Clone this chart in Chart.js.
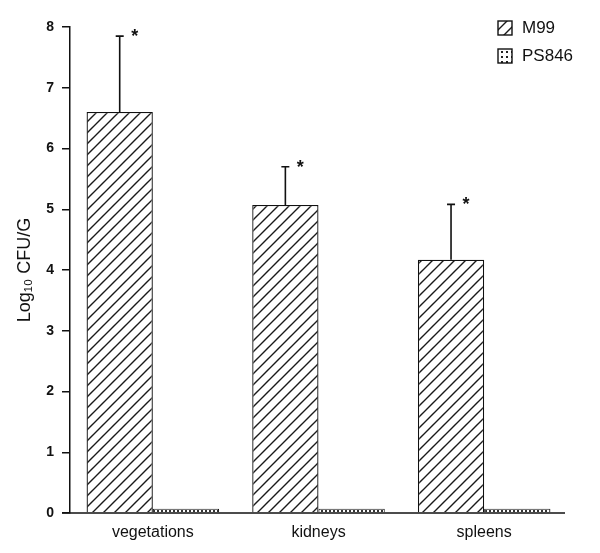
<!DOCTYPE html>
<html>
<head>
<meta charset="utf-8">
<script src="https://cdn.jsdelivr.net/npm/chart.js@4/dist/chart.umd.min.js"></script>
<style>
  html, body { margin: 0; padding: 0; background: #fff; }
  #wrap { width: 600px; height: 553px; }
</style>
</head>
<body>
<div id="wrap"><canvas id="grafico" width="600" height="553"></canvas></div>
<script>
const categorias = ['vegetations', 'kidneys', 'spleens'];
const valoresM99 = [6.6, 5.07, 4.17];
const errorM99 = [7.85, 5.70, 5.08];   // top of the error bar
const valoresPS846 = [0.07, 0.07, 0.07];
const marcas = ['*', '*', '*'];
const ticksY = [0, 1, 2, 3, 4, 5, 6, 7, 8];

// hatch pattern (/)
function rayado() {
  const c = document.createElement('canvas');
  c.width = 11; c.height = 11;
  const g = c.getContext('2d');
  g.fillStyle = '#fff';
  g.fillRect(0, 0, 11, 11);
  g.strokeStyle = '#1a1a1a';
  g.lineWidth = 1.4;
  g.beginPath();
  g.moveTo(0, 11); g.lineTo(11, 0);
  g.moveTo(-2, 2); g.lineTo(2, -2);
  g.moveTo(9, 13); g.lineTo(13, 9);
  g.stroke();
  return g.createPattern(c, 'repeat');
}

// dotted pattern
function punteado() {
  const c = document.createElement('canvas');
  c.width = 4; c.height = 3;
  const g = c.getContext('2d');
  g.fillStyle = '#fff';
  g.fillRect(0, 0, 4, 3);
  g.fillStyle = '#333';
  g.fillRect(1, 0, 2, 2);
  return g.createPattern(c, 'repeat');
}

// sparser dots for the legend box
function punteadoLeyenda() {
  const c = document.createElement('canvas');
  c.width = 5; c.height = 5;
  const g = c.getContext('2d');
  g.fillStyle = '#fff';
  g.fillRect(0, 0, 5, 5);
  g.fillStyle = '#222';
  g.fillRect(1, 1, 2, 2);
  return g.createPattern(c, 'repeat');
}

const patM99 = rayado();
const patPS = punteado();
const patPSLeyenda = punteadoLeyenda();

const extras = {
  id: 'extras',
  afterDatasetsDraw(chart) {
    const ctx = chart.ctx;
    const meta = chart.getDatasetMeta(0);
    const y = chart.scales.y;
    ctx.save();
    ctx.strokeStyle = '#111';
    ctx.fillStyle = '#111';
    ctx.lineWidth = 1.6;
    meta.data.forEach((bar, i) => {
      const yt = y.getPixelForValue(errorM99[i]);
      ctx.beginPath();
      ctx.moveTo(bar.x, bar.y);
      ctx.lineTo(bar.x, yt);
      ctx.moveTo(bar.x - 4, yt);
      ctx.lineTo(bar.x + 4, yt);
      ctx.stroke();
      ctx.font = 'bold 18px "Liberation Sans", Arial, sans-serif';
      ctx.textAlign = 'center';
      ctx.textBaseline = 'middle';
      ctx.fillText(marcas[i], bar.x + 15, yt + 1);
    });
    // x axis line extends left under the 0 tick
    const a = chart.chartArea;
    ctx.lineWidth = 1.5;
    ctx.beginPath();
    ctx.moveTo(a.left - 8, y.getPixelForValue(0));
    ctx.lineTo(a.right - 2, y.getPixelForValue(0));
    ctx.stroke();

    // legend
    const items = [['M99', patM99], ['PS846', patPSLeyenda]];
    ctx.font = '17px "Liberation Sans", Arial, sans-serif';
    ctx.textAlign = 'left';
    ctx.textBaseline = 'middle';
    items.forEach((it, k) => {
      const ly = 21 + k * 28;
      ctx.fillStyle = it[1];
      ctx.fillRect(498, ly, 14, 14);
      ctx.lineWidth = 1.4;
      ctx.strokeRect(498, ly, 14, 14);
      ctx.fillStyle = '#111';
      ctx.fillText(it[0], 522, ly + 7);
    });
    ctx.restore();
  }
};

const ctx = document.getElementById('grafico').getContext('2d');

new Chart(ctx, {
  type: 'bar',
  data: {
    labels: categorias,
    datasets: [{
      label: 'M99',
      data: valoresM99,
      backgroundColor: patM99,
      borderColor: '#111',
      borderWidth: 1.3,
      barPercentage: 1,
      categoryPercentage: 0.8
    }, {
      label: 'PS846',
      data: valoresPS846,
      backgroundColor: patPS,
      borderColor: '#111',
      borderWidth: 1,
      barPercentage: 1,
      categoryPercentage: 0.8
    }]
  },
  options: {
    responsive: false,
    animation: false,
    layout: { padding: { top: 27, right: 33, left: 0, bottom: 0 } },
    plugins: {
      legend: { display: false },
      tooltip: { enabled: false }
    },
    scales: {
      x: {
        grid: { display: false },
        border: { display: false },
        ticks: {
          color: '#111',
          font: { size: 16, family: '"Liberation Sans", Arial, sans-serif' },
          padding: 2
        },
        afterFit(s) { s.height = 40; }
      },
      y: {
        min: 0,
        max: 8,
        afterBuildTicks(s) { s.ticks = ticksY.map(v => ({ value: v })); },
        grid: {
          drawOnChartArea: false,
          color: '#111',
          lineWidth: 1.5,
          tickLength: 8
        },
        border: { display: true, color: '#111', width: 1.5 },
        ticks: {
          color: '#111',
          font: { size: 14, weight: 'bold', family: '"Liberation Sans", Arial, sans-serif' },
          padding: 8
        },
        title: {
          display: true,
          text: 'Log₁₀ CFU/G',
          color: '#111',
          font: { size: 18, family: '"Liberation Sans", Arial, sans-serif' },
          padding: { top: 14, bottom: 4 }
        },
        afterFit(s) { s.width = 70; }
      }
    }
  },
  plugins: [extras]
});
</script>
</body>
</html>
